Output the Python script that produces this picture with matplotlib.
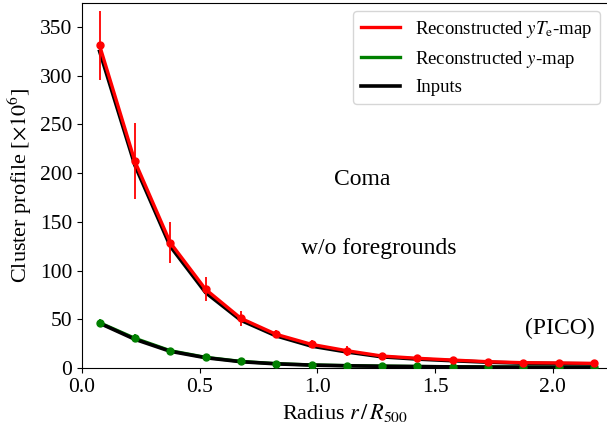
import matplotlib
matplotlib.use("Agg")
import matplotlib.pyplot as plt
from matplotlib.lines import Line2D

plt.rcParams['font.family'] = ['Liberation Serif', 'DejaVu Serif']
plt.rcParams['mathtext.fontset'] = 'stix'

# radial bins (r / R500)
radius = [0.075, 0.225, 0.375, 0.525, 0.675, 0.825, 0.975, 1.125,
          1.275, 1.425, 1.575, 1.725, 1.875, 2.025, 2.175]

# reconstructed yTe-map profile and errors
yte_rec = [331, 212, 128.7, 80.8, 51, 34.6, 24.3, 17.8, 12.3, 10, 8.2, 6.5, 5.5, 5.2, 4.8]
yte_err = [35, 39, 21, 12.5, 8, 4, 4, 5, 3, 3, 3, 2, 1.5, 1.5, 1.5]
yte_in = [325, 208, 125, 77.5, 49, 33, 22.5, 16.5, 11.5, 9.2, 7.5, 6, 5, 4.6, 4.3]

# reconstructed y-map profile and errors
y_rec = [46.5, 30.5, 17.8, 11, 6.8, 4.5, 3.2, 2.5, 2.0, 1.6, 1.3, 1.1, 1.0, 0.9, 0.8]
y_err = [4, 4, 1.5, 1, 0.8, 0.5, 0.4, 0.3, 0.3, 0.2, 0.2, 0.2, 0.2, 0.2, 0.2]
y_in = [46, 29.5, 17.2, 10.6, 6.5, 4.3, 3.0, 2.3, 1.8, 1.5, 1.2, 1.0, 0.9, 0.8, 0.7]

fig = plt.figure(figsize=(6.07, 4.33), dpi=100)
ax = fig.add_axes([0.135, 0.150, 0.867, 0.844])

ax.errorbar(radius, yte_rec, yerr=yte_err, color='red', lw=2.4, marker='o',
            ms=5, elinewidth=1.3, zorder=3)
ax.errorbar(radius, y_rec, yerr=y_err, color='green', lw=2.4,
            elinewidth=1.3, zorder=2)
ax.plot(radius, yte_in, color='black', lw=2.6, zorder=2.5)
ax.plot(radius, y_in, color='black', lw=2.6, zorder=2.5)
ax.plot(radius, y_rec, 'o', color='green', ms=5, zorder=3)

ax.text(1.19, 193, 'Coma', fontsize=17, ha='center', va='center')
ax.text(1.26, 123, 'w/o foregrounds', fontsize=17, ha='center', va='center')
ax.text(2.03, 41, '(PICO)', fontsize=17, ha='center', va='center')

ax.set_xlim(0, 2.235)
ax.set_ylim(0, 375)
ax.set_xticks([0.0, 0.5, 1.0, 1.5, 2.0])
ax.set_yticks([0, 50, 100, 150, 200, 250, 300, 350])
ax.tick_params(labelsize=15.5)
ax.set_xlabel(r'Radius $r\,/\,R_{500}$', fontsize=16)
ax.set_ylabel(r'Cluster profile [$\times 10^6$]', fontsize=16)

handles = [Line2D([], [], color='red', lw=2.4),
           Line2D([], [], color='green', lw=2.4),
           Line2D([], [], color='black', lw=2.6)]
labels = [r'Reconstructed $yT_\mathrm{e}$-map', r'Reconstructed $y$-map', 'Inputs']
ax.legend(handles, labels, loc='upper right', fontsize=13.5, handlelength=2.1,
          borderaxespad=0.45)

fig.savefig('out.png', dpi=100)
